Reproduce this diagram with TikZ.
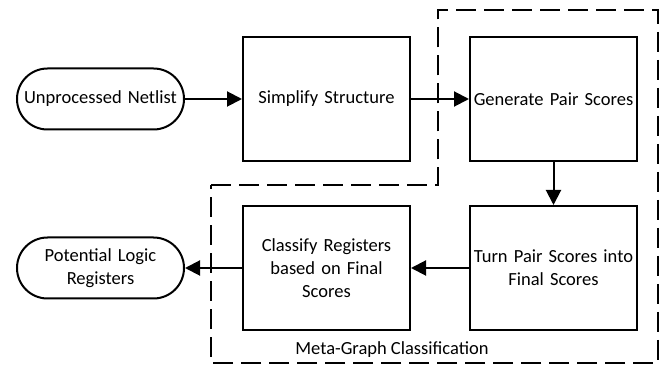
\documentclass[tikz,border=0pt]{standalone}
\usepackage{fontspec}
\setmainfont{Carlito}
\usetikzlibrary{arrows.meta}
\begin{document}
\begin{tikzpicture}[x=1pt,y=-1pt,
  every node/.style={font=\fontsize{18.5}{23}\selectfont},
  proc/.style={draw,line width=2pt,minimum width=167pt,minimum height=124pt,text width=165pt,align=center,inner sep=0pt},
  term/.style={draw,line width=2pt,rounded corners=30.5pt,minimum width=167pt,minimum height=61pt,text width=165pt,align=center,inner sep=0pt},
  flow/.style={line width=2pt,-{Triangle[length=15pt,width=15pt]}},
  group/.style={line width=2pt,dash pattern=on 20pt off 8pt}]
\useasboundingbox (0,0) rectangle (662,366);
\draw[group] (211,185) -- (437.5,185) -- (437.5,10) -- (658,10) -- (658,363) -- (211,363) -- cycle;
\node[term] (u) at (100.5,99) {Unprocessed Netlist};
\node[proc] (s) at (326.5,99) {Simplify Structure};
\node[proc] (g) at (553.5,99) {Generate Pair Scores};
\node[proc] (t) at (553.5,268) {Turn Pair Scores into\\Final Scores};
\node[proc] (c) at (326.5,268) {Classify Registers\\based on Final\\Scores};
\node[term] (p) at (100.5,268) {Potential Logic\\Registers};
\node (lbl) at (392,350) {Meta-Graph Classification};
\draw[flow] (u) -- (s);
\draw[flow] (s) -- (g);
\draw[flow] (g) -- (t);
\draw[flow] (t) -- (c);
\draw[flow] (c) -- (p);
\end{tikzpicture}
\end{document}
